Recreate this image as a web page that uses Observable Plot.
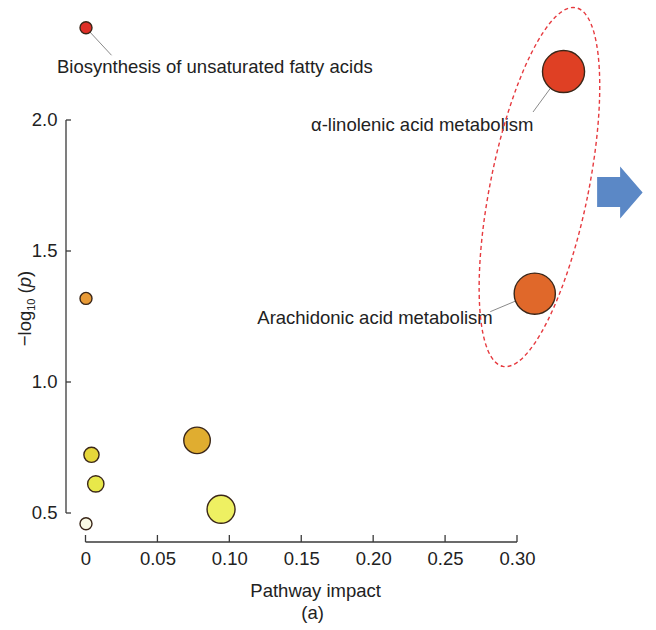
<!DOCTYPE html>
<html><head><meta charset="utf-8">
<script src="https://cdn.jsdelivr.net/npm/d3@7"></script>
<script src="https://cdn.jsdelivr.net/npm/@observablehq/plot@0.6"></script>
<style>
html,body{margin:0;padding:0;background:#fff;}
#chart{width:656px;height:630px;}
</style></head><body><div id="chart"></div>
<script>
// ---- data ----
const pathways = [
  "Biosynthesis of unsaturated fatty acids",
  "α-linolenic acid metabolism",
  "Arachidonic acid metabolism",
  "Pathway 4", "Pathway 5", "Pathway 6", "Pathway 7", "Pathway 8", "Pathway 9"
];
const impact  = [0, 0.332, 0.312, 0, 0.0038, 0.0068, 0, 0.0772, 0.0939];
const negLogP = [2.354, 2.187, 1.339, 1.321, 0.724, 0.613, 0.461, 0.779, 0.516];
const labelled = [
  "Biosynthesis of unsaturated fatty acids",
  "α-linolenic acid metabolism",
  "Arachidonic acid metabolism"
];
const xTicks = [0, 0.05, 0.10, 0.15, 0.20, 0.25, 0.30];
const xTickLabels = ["0", "0.05", "0.10", "0.15", "0.20", "0.25", "0.30"];
const yTicks = [0.5, 1.0, 1.5, 2.0];
const yTickLabels = ["0.5", "1.0", "1.5", "2.0"];
const xTitle = "Pathway impact";
const panelTag = "(a)";
// highlighted group (ellipse centre) and arrow anchor, in data units
const groupCentre = {impact: 0.3156, negLogP: 1.744};
const arrowAnchor = {impact: 0.3557, negLogP: 1.725};

// ---- styles / layout ----
const palette = ["#df2f27", "#df4024", "#e0682a", "#e89a36", "#e6d63a", "#e8e84a", "#fafae4", "#e0ad30", "#eef062"];
const labelLayout = [
  {dx: -29, dy: 39, anchor: "start", lx: 26, ly: 28},
  {dx: -30, dy: 53.5, anchor: "end", lx: -30, ly: 41},
  {dx: -42, dy: 24, anchor: "end", lx: -44, ly: 18.5}
];
const ellipseShape = {rx: 49, ry: 183, tilt: 11.5};
const FONT = "'Liberation Sans', Arial, Helvetica, sans-serif";

const data = pathways.map((name, i) => ({name, impact: impact[i], p: negLogP[i]}));

function decorations(index, scales, values, dims) {
  const {x, y} = scales;
  const g = d3.create("svg:g");
  const axisColor = "#3a3a3a";
  const xAxisY = dims.height - dims.marginBottom;
  const yAxisX = dims.marginLeft;
  // x axis line + inward ticks
  g.append("line").attr("x1", x(xTicks[0])).attr("x2", x(xTicks[xTicks.length - 1]))
    .attr("y1", xAxisY).attr("y2", xAxisY).attr("stroke", axisColor).attr("stroke-width", 1.3);
  for (const t of xTicks) {
    g.append("line").attr("x1", x(t)).attr("x2", x(t)).attr("y1", xAxisY).attr("y2", xAxisY - 7)
      .attr("stroke", axisColor).attr("stroke-width", 1.3);
  }
  // y axis line + inward ticks
  g.append("line").attr("x1", yAxisX).attr("x2", yAxisX)
    .attr("y1", y(yTicks[0])).attr("y2", y(yTicks[yTicks.length - 1])).attr("stroke", axisColor).attr("stroke-width", 1.3);
  for (const t of yTicks) {
    g.append("line").attr("x1", yAxisX).attr("x2", yAxisX + 5).attr("y1", y(t)).attr("y2", y(t))
      .attr("stroke", axisColor).attr("stroke-width", 1.3);
  }
  // x title and panel tag
  const midX = x(0.16);
  g.append("text").attr("x", midX).attr("y", xAxisY + 55).attr("text-anchor", "middle")
    .attr("fill", "#222").text(xTitle);
  g.append("text").attr("x", midX - 3).attr("y", xAxisY + 77).attr("text-anchor", "middle")
    .attr("fill", "#222").text(panelTag);
  // y title: −log10 (p)
  const yt = g.append("text").attr("transform", `translate(30.5,${(y(yTicks[0]) + y(yTicks[yTicks.length - 1])) / 2 - 8}) rotate(-90)`)
    .attr("text-anchor", "middle").attr("fill", "#222");
  yt.append("tspan").text("\u2212log");
  yt.append("tspan").attr("font-size", "11px").attr("dy", "4").text("10");
  yt.append("tspan").attr("dy", "-4").text(" (");
  yt.append("tspan").attr("font-style", "italic").text("p");
  yt.append("tspan").text(")");
  return g.node();
}

function leaders(index, scales) {
  const {x, y} = scales;
  const g = d3.create("svg:g");
  labelled.forEach((name, k) => {
    const d = data.find(e => e.name === name);
    const L = labelLayout[k];
    const cx = x(d.impact), cy = y(d.p);
    g.append("line").attr("x1", cx).attr("y1", cy).attr("x2", cx + L.lx).attr("y2", cy + L.ly)
      .attr("stroke", "#8a8a8a").attr("stroke-width", 1);
  });
  return g.node();
}

function highlight(index, scales) {
  const {x, y} = scales;
  const g = d3.create("svg:g");
  const cx = x(groupCentre.impact), cy = y(groupCentre.negLogP);
  g.append("ellipse").attr("cx", cx).attr("cy", cy).attr("rx", ellipseShape.rx).attr("ry", ellipseShape.ry)
    .attr("transform", `rotate(${ellipseShape.tilt},${cx},${cy})`)
    .attr("fill", "none").attr("stroke", "#e63a3f").attr("stroke-width", 1.4).attr("stroke-dasharray", "4,3");
  const ax = x(arrowAnchor.impact), ay = y(arrowAnchor.negLogP);
  const pts = [[0, -15], [23, -15], [23, -25.5], [45.5, 0.5], [23, 26.5], [23, 15], [0, 15]];
  g.append("polygon").attr("points", pts.map(([u, v]) => `${ax + u},${ay + v}`).join(" "))
    .attr("fill", "#5b88c6");
  return g.node();
}

const chart = Plot.plot({
  width: 656,
  height: 630,
  marginLeft: 66,
  marginRight: 139,
  marginTop: 10,
  marginBottom: 88,
  style: {fontFamily: FONT, fontSize: "18.5px", color: "#222", background: "#fff", overflow: "visible"},
  x: {domain: [0, 0.30], range: [85.5, 517]},
  y: {domain: [0.5, 2.0], range: [513, 120]},
  r: {type: "sqrt", domain: [0, 0.33], range: [6, 21]},
  color: {type: "ordinal", domain: pathways, range: palette},
  marks: [
    Plot.axisX({ticks: xTicks, tickFormat: d => xTickLabels[xTicks.indexOf(d)], tickSize: 0, tickPadding: 9, label: null, fontSize: 18.5}),
    Plot.axisY({ticks: yTicks, tickFormat: d => yTickLabels[yTicks.indexOf(d)], tickSize: 0, tickPadding: 9, label: null, fontSize: 18.5}),
    decorations,
    leaders,
    Plot.dot(data, {x: "impact", y: "p", r: "impact", fill: "name", stroke: "#3a2618", strokeWidth: 1.4}),
    ...labelled.map((name, k) => Plot.text(data.filter(d => d.name === name), {
      x: "impact", y: "p", text: "name", dx: labelLayout[k].dx, dy: labelLayout[k].dy,
      textAnchor: labelLayout[k].anchor, fill: "#222", fontSize: 18.5
    })),
    highlight
  ]
});
document.getElementById("chart").append(chart);
</script>
</body></html>
